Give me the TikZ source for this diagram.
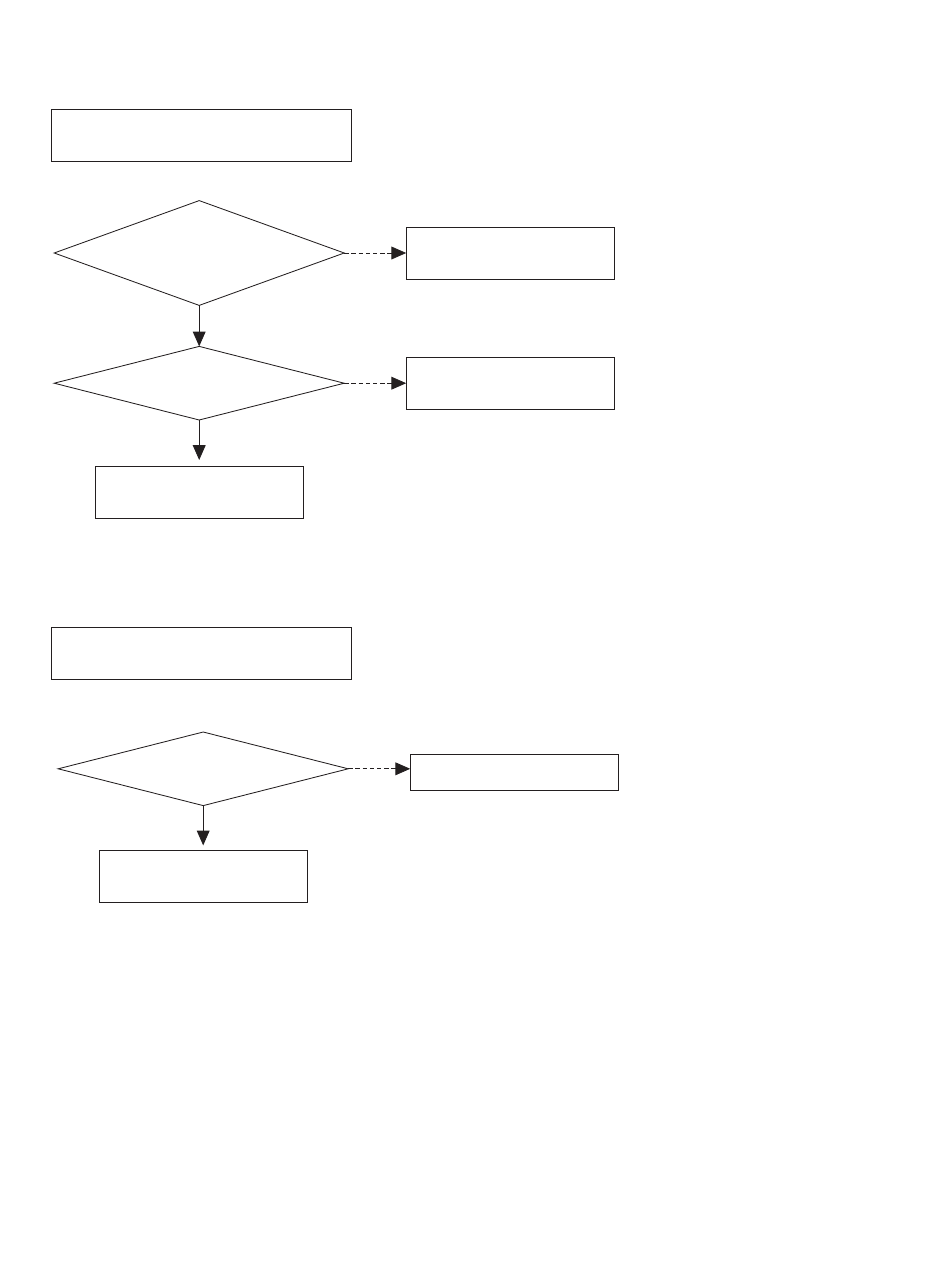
\documentclass[tikz,border=0pt]{standalone}
\usetikzlibrary{shapes.geometric, positioning, arrows.meta}
\definecolor{inkgray}{HTML}{231F20}
\tikzset{
  widebox/.style={rectangle, minimum width=7.5cm, minimum height=1.3cm, inner sep=0pt, outer sep=0pt, draw=inkgray, line width=0.6pt},
  sidebox/.style={rectangle, minimum width=5.2cm, minimum height=1.3cm, inner sep=0pt, outer sep=0pt, draw=inkgray, line width=0.6pt},
  check/.style={diamond, minimum width=7.25cm, minimum height=1.84cm, inner sep=0pt, outer sep=0pt, draw=inkgray, line width=0.6pt},
  arrow/.style={line width=0.6pt, draw=inkgray, -{Triangle[length=0.37cm, width=0.32cm]}},
  dasharrow/.style={arrow, dash pattern=on 0.11cm off 0.07cm}
}
\begin{document}
\begin{tikzpicture}
  \useasboundingbox (0,0) rectangle (23.75,-31.7);
  % first block
  \node (head1) [widebox] at (5.04,-3.39) {};
  \node (test1) [check, minimum height=2.62cm, below=0.975cm of head1, xshift=-0.06cm] {};
  \node (side1) [sidebox, right=1.55cm of test1] {};
  \node (test2) [check, below=1.025cm of test1] {};
  \node (side2) [sidebox, right=1.55cm of test2] {};
  \node (end1) [sidebox, below=1.15cm of test2] {};

  % second block
  \node (head2) [widebox, below=2.725cm of end1, xshift=0.06cm] {};
  \node (test3) [check, below=1.325cm of head2, xshift=0.04cm] {};
  \node (side3) [sidebox, minimum height=0.9cm, right=1.55cm of test3, yshift=-0.08cm] {};
  \node (end2) [sidebox, below=1.125cm of test3] {};

  \draw [dasharrow] (test1.east) -- (test1.east -| side1.west);
  \draw [arrow] (test1.south) -- (test2.north);
  \draw [dasharrow] (test2.east) -- (test2.east -| side2.west);
  \draw [arrow, shorten >=0.15cm] (test2.south) -- (end1.north);

  \draw [dasharrow] (test3.east) -- (test3.east -| side3.west);
  \draw [arrow, shorten >=0.13cm] (test3.south) -- (end2.north);
\end{tikzpicture}
\end{document}
